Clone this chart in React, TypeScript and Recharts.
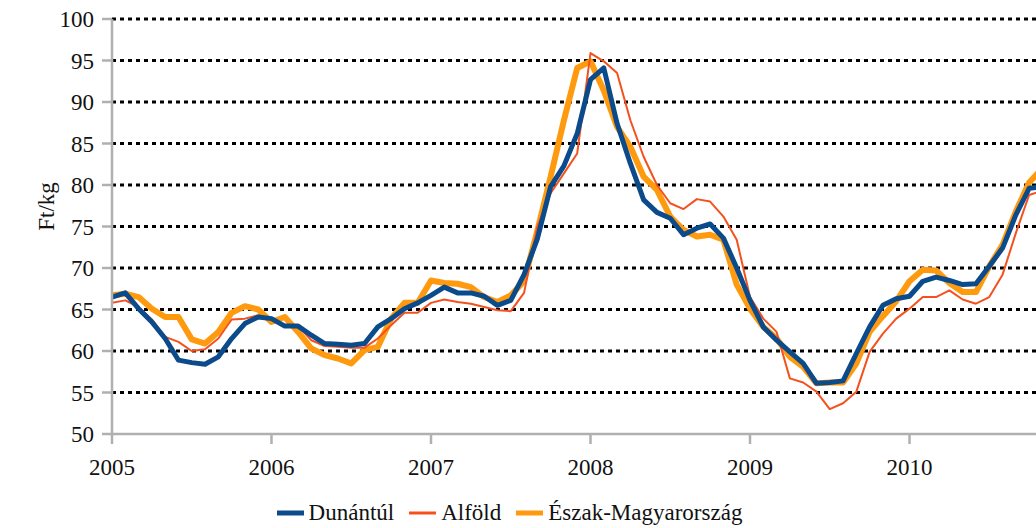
import React from 'react';
import { LineChart, Line, XAxis, YAxis, CartesianGrid, Legend } from 'recharts';

// monthly prices, Jan 2005 .. Nov 2010 (Ft/kg)
const dunantul = [
  66.5, 67.0, 65.1, 63.5, 61.5, 58.9, 58.6, 58.4, 59.3, 61.5, 63.3, 64.1,
  63.9, 63.0, 63.0, 61.9, 60.9, 60.8, 60.7, 60.9, 62.9, 63.9, 65.1, 65.8,
  66.7, 67.7, 67.0, 67.0, 66.6, 65.5, 66.1, 69.2, 73.5, 79.8, 82.3, 86.2,
  92.7, 94.1, 87.4, 82.6, 78.2, 76.7, 76.0, 74.0, 74.8, 75.3, 73.6, 70.0,
  66.1, 62.9, 61.3, 59.9, 58.5, 56.1, 56.2, 56.4, 59.7, 62.9, 65.5, 66.3,
  66.6, 68.4, 68.9, 68.5, 68.0, 68.1, 70.2, 72.4, 76.4, 79.6, 79.8,
];
const alfold = [
  65.8, 66.1, 65.3, 63.8, 61.7, 61.1, 60.0, 60.2, 61.5, 63.8, 63.9, 64.3,
  63.9, 63.0, 63.0, 61.3, 60.6, 60.5, 60.4, 60.4, 61.5, 63.1, 64.6, 64.6,
  65.8, 66.2, 65.9, 65.7, 65.3, 64.9, 64.8, 67.0, 75.0, 79.0, 81.4, 83.8,
  95.9, 94.9, 93.5, 87.8, 83.4, 80.0, 77.8, 77.1, 78.3, 78.0, 76.2, 73.4,
  66.5, 63.9, 62.3, 56.7, 56.2, 55.1, 53.0, 53.7, 55.1, 59.9, 62.1, 63.9,
  65.1, 66.5, 66.5, 67.3, 66.2, 65.7, 66.5, 69.2, 74.2, 78.8, 79.3,
];
const eszak = [
  66.7, 66.9, 66.5, 65.1, 64.1, 64.1, 61.4, 60.9, 62.3, 64.6, 65.4, 65.0,
  63.5, 64.1, 62.3, 60.3, 59.5, 59.1, 58.5, 60.1, 60.5, 63.9, 65.8, 65.8,
  68.5, 68.2, 68.1, 67.7, 66.5, 65.9, 66.7, 68.4, 74.5, 81.0, 87.8, 94.1,
  94.9, 91.4, 87.0, 84.6, 81.0, 79.4, 76.2, 74.6, 73.8, 74.0, 73.4, 68.0,
  65.1, 62.9, 61.5, 59.3, 58.1, 56.1, 56.2, 56.2, 58.5, 62.3, 64.2, 66.0,
  68.4, 69.8, 69.7, 68.2, 67.1, 67.1, 70.2, 72.8, 76.8, 80.3, 82.0,
];

const startYear = 2005;
const xTicks = [0, 12, 24, 36, 48, 60];
const yTicks = [50, 55, 60, 65, 70, 75, 80, 85, 90, 95, 100];
const gridValues = [55, 60, 65, 70, 75, 80, 85, 90, 95, 100];

const series = [
  { key: 'dunantul', name: 'Dunántúl', color: '#0b4a8b', width: 5 },
  { key: 'alfold', name: 'Alföld', color: '#f4511e', width: 2 },
  { key: 'eszak', name: 'Észak-Magyarország', color: '#ff9a0e', width: 6 },
];

const data = dunantul.map((v, i) => ({
  t: i,
  dunantul: v,
  alfold: alfold[i],
  eszak: eszak[i],
}));

const FONT = '"Liberation Serif", "DejaVu Serif", serif';
const AXIS = '#b0b0b0';

const LegendContent = () => (
  <div
    style={{
      display: 'flex',
      justifyContent: 'center',
      alignItems: 'center',
      height: 30,
      fontFamily: FONT,
      fontSize: 23,
      color: '#111',
    }}
  >
    {series.map((s, i) => (
      <div key={s.key} style={{ display: 'flex', alignItems: 'center', marginLeft: i ? 15 : 0 }}>
        <svg width={27} height={8} style={{ marginRight: 5 }}>
          <line x1={0} y1={4} x2={27} y2={4} stroke={s.color} strokeWidth={s.width === 2 ? 3 : 5} />
        </svg>
        <span>{s.name}</span>
      </div>
    ))}
  </div>
);

const YLabel = ({ viewBox }: any) => {
  const x = viewBox.x + 46;
  const y = viewBox.y + viewBox.height / 2 - 20;
  return (
    <text x={x} y={y} transform={`rotate(-90 ${x} ${y})`} textAnchor="middle" dominantBaseline="central"
      fontFamily={FONT} fontSize={23} fill="#111">
      Ft/kg
    </text>
  );
};

export default function App() {
  const order = ['eszak', 'alfold', 'dunantul'];
  return (
    <div style={{ position: 'fixed', left: 0, top: 0, width: 1036, height: 528, overflow: 'hidden', background: '#fff' }}>
      <LineChart width={1100} height={528} data={data} margin={{ top: 19, right: 31, bottom: 0, left: 0 }}
        style={{ fontFamily: FONT }}>
        <CartesianGrid
          vertical={false}
          horizontalValues={gridValues}
          stroke="#000"
          strokeWidth={3}
          strokeDasharray="4 4"
        />
        <XAxis
          dataKey="t"
          type="number"
          domain={[0, 72]}
          ticks={xTicks}
          tickFormatter={(t: number) => String(startYear + t / 12)}
          height={64}
          stroke={AXIS}
          strokeWidth={2.5}
          tickSize={10}
          tickMargin={15}
          tick={{ fontFamily: FONT, fontSize: 23, fill: '#111' }}
          allowDataOverflow
        />
        <YAxis
          domain={[50, 100]}
          ticks={yTicks}
          width={112}
          stroke={AXIS}
          strokeWidth={2.5}
          tickSize={10}
          tickMargin={8}
          tick={{ fontFamily: FONT, fontSize: 23, fill: '#111' }}
          label={<YLabel />}
          allowDataOverflow
        />
        {order.map((k) => {
          const s = series.find((x) => x.key === k)!;
          return (
            <Line
              key={k}
              type="linear"
              dataKey={k}
              name={s.name}
              stroke={s.color}
              strokeWidth={s.width}
              dot={false}
              strokeLinejoin="round"
              isAnimationActive={false}
            />
          );
        })}
        <Legend
          verticalAlign="bottom"
          content={<LegendContent />}
          wrapperStyle={{ left: 0, width: 1019, bottom: 0 }}
        />
      </LineChart>
    </div>
  );
}
